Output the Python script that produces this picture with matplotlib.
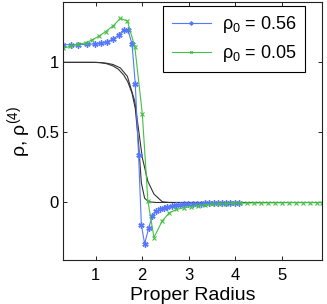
import matplotlib
matplotlib.use("Agg")
import matplotlib.pyplot as plt

plt.rcParams['font.family'] = ['Liberation Sans', 'DejaVu Sans']
plt.rcParams['mathtext.fontset'] = 'custom'
plt.rcParams['mathtext.rm'] = 'Liberation Sans'
plt.rcParams['mathtext.it'] = 'Liberation Sans:italic'

# rho^(4) for rho_0 = 0.56 (blue, '*')
blue_x = [0.30, 0.47, 0.63, 0.81, 0.98, 1.11, 1.24, 1.37, 1.49, 1.60, 1.69, 1.78,
          1.85, 1.92, 1.98, 2.05, 2.14, 2.21, 2.29, 2.38, 2.46, 2.54, 2.63, 2.72,
          2.81, 2.90, 2.99, 3.08, 3.17, 3.26, 3.35, 3.44, 3.53, 3.62, 3.71, 3.80,
          3.89, 3.98, 4.07]
blue_y = [1.126, 1.126, 1.127, 1.129, 1.131, 1.136, 1.147, 1.167, 1.193, 1.233, 1.233, 1.13,
          0.843, 0.34, -0.16, -0.295, -0.18, -0.098, -0.064, -0.05, -0.038, -0.029, -0.024, -0.020,
          -0.017, -0.014, -0.012, -0.010, -0.009, -0.008, -0.007, -0.006, -0.005, -0.004, -0.004, -0.003,
          -0.003, -0.002, -0.002]

# rho^(4) for rho_0 = 0.05 (green, 'x')
green_x = [0.30, 0.45, 0.63, 0.785, 0.92, 1.06, 1.215, 1.37, 1.53, 1.68, 1.84, 2.00,
           2.12, 2.25, 2.43, 2.58, 2.73, 2.89, 3.04, 3.19, 3.34, 3.49, 3.64, 3.79,
           3.94, 4.09, 4.24, 4.39, 4.54, 4.69, 4.84, 4.99, 5.14, 5.29, 5.44, 5.59,
           5.74, 5.86]
green_y = [1.10, 1.114, 1.13, 1.14, 1.16, 1.186, 1.22, 1.26, 1.314, 1.295, 1.11, 0.634,
           0.012, -0.25, -0.13, -0.074, -0.05, -0.038, -0.029, -0.022, -0.017, -0.013, -0.010, -0.008,
           -0.006, -0.005, -0.004, -0.003, -0.003, -0.002, -0.002, -0.002, -0.001, -0.001, -0.001, -0.001,
           -0.001, -0.001]

# rho (black curves)
rhoA_x = [0.30, 0.98, 1.11, 1.24, 1.37, 1.49, 1.60, 1.69, 1.78, 1.85, 1.92, 1.98,
          2.05, 2.14, 2.30, 4.07]
rhoA_y = [1.0, 1.0, 0.998, 0.99, 0.975, 0.95, 0.91, 0.86, 0.78, 0.67, 0.42, 0.14,
          0.03, 0.005, 0.0, 0.0]
rhoB_x = [0.30, 0.92, 1.06, 1.215, 1.37, 1.53, 1.68, 1.84, 2.00, 2.12, 2.25, 2.43,
          2.58, 5.86]
rhoB_y = [1.0, 1.0, 0.999, 0.995, 0.985, 0.96, 0.90, 0.72, 0.32, 0.15, 0.06, 0.005,
          0.0, 0.0]

labels = [r'ρ$_0$ = 0.56', r'ρ$_0$ = 0.05']
xticks = [1, 2, 3, 4, 5]
yticks = [0, 0.5, 1]
yticklabels = ['0', '0.5', '1']

fig = plt.figure(figsize=(3.27, 3.04), dpi=100)
ax = fig.add_axes([0.193, 0.145, 0.792, 0.848])

ax.plot(rhoA_x, rhoA_y, color='#333333', lw=0.8)
ax.plot(rhoB_x, rhoB_y, color='#333333', lw=0.8)
ax.plot(blue_x, blue_y, color='#5577ff', lw=0.8, marker=(6, 2, 0), ms=4.5, mew=1.0,
        label=labels[0])
ax.plot(green_x, green_y, color='#44c044', lw=0.8, marker='x', ms=3, mew=0.8, label=labels[1])

ax.set_xlim(0.3, 5.86)
ax.set_ylim(-0.41, 1.43)
ax.set_xticks(xticks)
ax.set_xticklabels([str(t) for t in xticks])
ax.set_yticks(yticks)
ax.set_yticklabels(yticklabels)
ax.tick_params(direction='in', length=3, width=0.6, labelsize=12, top=True, right=True)
ax.tick_params(axis='x', pad=6)
ax.tick_params(axis='y', pad=3)
for s in ax.spines.values():
    s.set_linewidth(0.8)
    s.set_color('#222222')

ax.set_xlabel('Proper Radius', fontsize=14, labelpad=3)
ax.set_ylabel(r'ρ, ρ$^{(4)}$', fontsize=14, labelpad=2)

leg = ax.legend(loc='upper right', bbox_to_anchor=(305 / 327, 1 - 6 / 304),
                bbox_transform=fig.transFigure, fontsize=13, frameon=True, fancybox=False,
                edgecolor='black', framealpha=1, borderpad=0.45, handlelength=2.2,
                handletextpad=0.6, labelspacing=0.45, borderaxespad=0.0, markerscale=0.6)
leg.get_frame().set_linewidth(0.8)

fig.savefig('out.png', dpi=100)
